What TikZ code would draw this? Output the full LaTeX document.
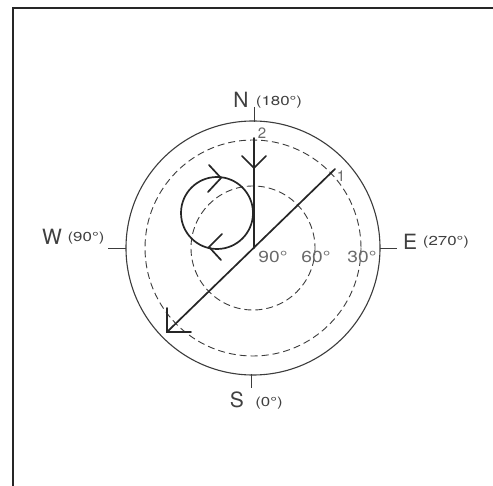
\documentclass[tikz,border=0pt]{standalone}
\usepackage{fontspec}
\setmainfont{TeX Gyre Heros}
\definecolor{ink}{HTML}{262626}
\definecolor{ln}{HTML}{3C3C3C}
\definecolor{txt}{HTML}{404040}
\definecolor{txtl}{HTML}{6A6A6A}
\newcommand{\widetxt}[2]{\scalebox{#1}[1]{#2}}
\begin{document}
\begin{tikzpicture}[x=1pt,y=-1pt,
  lbl/.style={inner sep=0pt, text=txt},
  big/.style={lbl, font=\fontsize{21}{21}\selectfont},
  small/.style={lbl, font=\fontsize{13}{13}\selectfont},
  deg/.style={lbl, text=txtl, font=\fontsize{16}{16}\selectfont},
  num/.style={lbl, text=txtl, font=\fontsize{15}{15}\selectfont},
  thinline/.style={line width=1.1pt, draw=ln},
  dashc/.style={line width=0.9pt, draw=ln, dash pattern=on 7pt off 4pt},
  tick/.style={line width=0.9pt, draw=ln},
  arr/.style={line width=1.7pt, draw=ink, line cap=round, line join=miter},
  ]
\useasboundingbox[fill=white] (0,0) rectangle (493,486);
% frame
\coordinate (f1) at (13,486);
\coordinate (f2) at (13,8);
\coordinate (f3) at (493,8);
\draw[line width=2pt, draw=ink] (f1) -- (f2) -- (f3);
% circles
\coordinate (C) at (253,248);
\draw[thinline] (C) circle[radius=127];
\draw[dashc] (C) circle[radius=108];
\draw[dashc] (C) circle[radius=62];
% ticks
\coordinate (Na) at (254,107); \coordinate (Nb) at (254,122);
\coordinate (Wa) at (108,248); \coordinate (Wb) at (126,248);
\coordinate (Ea) at (380,248); \coordinate (Eb) at (397,248);
\coordinate (Sa) at (251,374); \coordinate (Sb) at (251,388);
\draw[tick] (Na) -- (Nb);
\draw[tick] (Wa) -- (Wb);
\draw[tick] (Ea) -- (Eb);
\draw[tick] (Sa) -- (Sb);
% compass labels
\node[big] (N) at (241,100) {N};
\node[small] (Ndeg) at (279,102) {\widetxt{1.3}{(180°)}};
\node[big] (W) at (52,237) {W};
\node[small] (Wdeg) at (86,238) {\widetxt{1.3}{(90°)}};
\node[big] (E) at (410,242) {E};
\node[small] (Edeg) at (446,242) {\widetxt{1.3}{(270°)}};
\node[big] (S) at (237,400) {S};
\node[small] (Sdeg) at (269,403) {\widetxt{1.3}{(0°)}};
% elevation labels
\node[deg] (d90) at (273,257) {\widetxt{1.2}{90°}};
\node[deg] (d60) at (316,257) {\widetxt{1.2}{60°}};
\node[deg] (d30) at (362,257) {\widetxt{1.2}{30°}};
\node[num] (n2) at (262,133) {2};
\node[num] (n1) at (341,176) {1};
% vertical line 2
\coordinate (v2) at (254,138);
\coordinate (vc) at (254,248);
\draw[arr] (v2) -- (vc);
\coordinate (vt) at (254,168);
\coordinate (vl) at (242,156);
\coordinate (vr) at (266,156);
\draw[arr] (vl) -- (vt) -- (vr);
% diagonal line 1
\coordinate (a1) at (335,169);
\coordinate (a2) at (167,332);
\draw[arr] (a1) -- (a2);
\coordinate (au) at (167,308);
\coordinate (ar) at (191,332);
\draw[arr] (au) -- (a2) -- (ar);
% loop
\coordinate (L) at (217,213);
\draw[arr] (L) circle[radius=36];
\coordinate (t1) at (209,165); \coordinate (t2) at (221,178); \coordinate (t3) at (208,192);
\draw[arr] (t1) -- (t2) -- (t3);
\coordinate (b1) at (222,234); \coordinate (b2) at (209,247); \coordinate (b3) at (221,260);
\draw[arr] (b1) -- (b2) -- (b3);
\end{tikzpicture}
\end{document}
